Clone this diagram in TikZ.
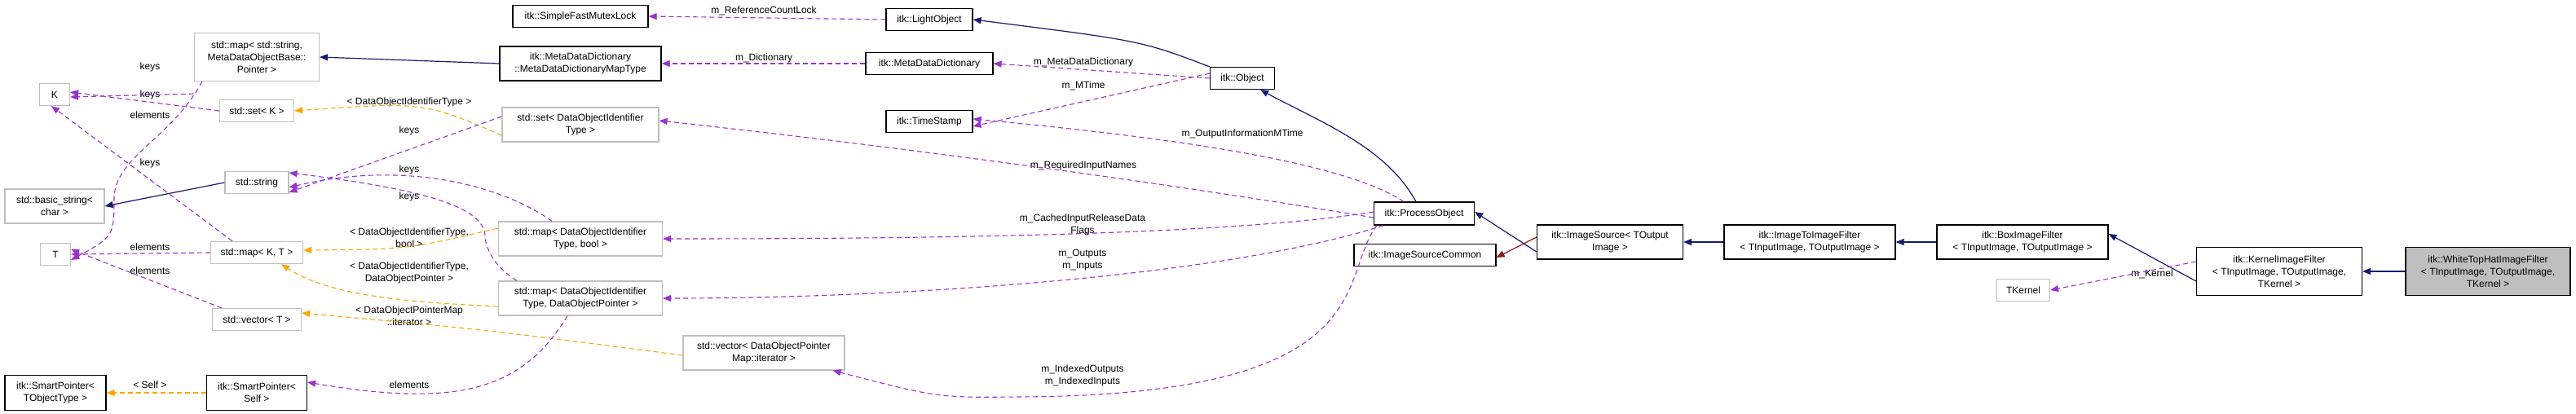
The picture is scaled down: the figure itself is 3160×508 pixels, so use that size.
\documentclass[tikz,border=0pt]{standalone}
\usepackage{fontspec}
\setmainfont{Liberation Sans}
\usetikzlibrary{arrows.meta}
\definecolor{navy}{HTML}{191970}
\definecolor{purp}{HTML}{9A32CD}
\definecolor{orng}{HTML}{FFA500}
\definecolor{dred}{HTML}{8B1A1A}
\definecolor{gbord}{HTML}{BFBFBF}
\begin{document}
\begin{tikzpicture}[x=1pt,y=-1pt,
  font=\fontsize{12}{15}\selectfont,
  box/.style={draw=black,line width=1.2pt,fill=white,inner sep=0pt,align=center},
  gbox/.style={draw=gbord,line width=1.2pt,fill=white,inner sep=0pt,align=center},
  lbl/.style={inner sep=0pt,align=center},
  tip/.style={-{Triangle[length=10pt,width=8pt]}},
  inh/.style={tip,draw=navy,line width=1.2pt},
  inhr/.style={tip,draw=dred,line width=1.2pt},
  use/.style={tip,draw=purp,line width=1.1pt,dash pattern=on 6pt off 4pt},
  tmpl/.style={tip,draw=orng,line width=1.1pt,dash pattern=on 6pt off 4pt}]
\useasboundingbox (0,0) rectangle (3160,508);
% nodes
\node[box,minimum width=166,minimum height=27] (sfml) at (712,20) {itk::SimpleFastMutexLock};
\node[gbox,minimum width=153,minimum height=59] (mapstr) at (315,70) {std::map< std::string,\\MetaDataObjectBase::\\Pointer >};
\node[box,minimum width=198,minimum height=42] (mddmt) at (712,78) {itk::MetaDataDictionary\\::MetaDataDictionaryMapType};
\node[gbox,minimum width=37,minimum height=27] (K) at (67,116) {K};
\node[gbox,minimum width=91,minimum height=27] (setK) at (315,136) {std::set< K >};
\node[gbox,minimum width=192,minimum height=42] (setdoit) at (712,153) {std::set< DataObjectIdentifier\\Type >};
\node[gbox,minimum width=78,minimum height=27] (str) at (315,224) {std::string};
\node[gbox,minimum width=122,minimum height=42] (bstr) at (67,253) {std::basic\_string<\\char >};
\node[gbox,minimum width=37,minimum height=27] (T) at (68,312) {T};
\node[gbox,minimum width=113,minimum height=27] (mapKT) at (315,310) {std::map< K, T >};
\node[gbox,minimum width=201,minimum height=42] (mapbool) at (712,293) {std::map< DataObjectIdentifier\\Type, bool >};
\node[gbox,minimum width=201,minimum height=42] (mapdop) at (712,366) {std::map< DataObjectIdentifier\\Type, DataObjectPointer >};
\node[gbox,minimum width=109,minimum height=27] (vecT) at (315,392) {std::vector< T >};
\node[box,minimum width=124,minimum height=43] (spto) at (68,482) {itk::SmartPointer<\\TObjectType >};
\node[box,minimum width=123,minimum height=43] (spself) at (315,482) {itk::SmartPointer<\\Self >};
\node[box,minimum width=106,minimum height=27] (lo) at (1140,24) {itk::LightObject};
\node[box,minimum width=156,minimum height=27] (mdd) at (1140,78) {itk::MetaDataDictionary};
\node[box,minimum width=79,minimum height=27] (obj) at (1524,96) {itk::Object};
\node[box,minimum width=106,minimum height=27] (ts) at (1140,149) {itk::TimeStamp};
\node[box,minimum width=123,minimum height=28] (po) at (1747,262) {itk::ProcessObject};
\node[box,minimum width=174,minimum height=27] (isc) at (1748,313) {itk::ImageSourceCommon};
\node[gbox,minimum width=198,minimum height=42] (vecit) at (937,433) {std::vector< DataObjectPointer\\Map::iterator >};
\node[box,minimum width=179,minimum height=42] (is) at (1975,297) {itk::ImageSource< TOutput\\Image >};
\node[box,minimum width=210,minimum height=42] (i2i) at (2220,297) {itk::ImageToImageFilter\\< TInputImage, TOutputImage >};
\node[box,minimum width=210,minimum height=42] (bif) at (2481,297) {itk::BoxImageFilter\\< TInputImage, TOutputImage >};
\node[box,minimum width=203,minimum height=59] (kif) at (2796,333) {itk::KernelImageFilter\\< TInputImage, TOutputImage,\\TKernel >};
\node[box,fill=gbord,minimum width=202,minimum height=59] (wth) at (3052,333) {itk::WhiteTopHatImageFilter\\< TInputImage, TOutputImage,\\TKernel >};
\node[gbox,minimum width=65,minimum height=27] (tk) at (2482,356) {TKernel};
% labels
\node[lbl] (l1) at (937,13) {m\_ReferenceCountLock};
\node[lbl] (l2) at (937,71) {m\_Dictionary};
\node[lbl] (l3) at (1329,76) {m\_MetaDataDictionary};
\node[lbl] (l4) at (1329,105) {m\_MTime};
\node[lbl] (l5) at (1524,164) {m\_OutputInformationMTime};
\node[lbl] (l6) at (1329,203) {m\_RequiredInputNames};
\node[lbl] (l7) at (1328,276) {m\_CachedInputReleaseData\\Flags};
\node[lbl] (l8) at (1328,319) {m\_Outputs\\m\_Inputs};
\node[lbl] (l9) at (1328,461) {m\_IndexedOutputs\\m\_IndexedInputs};
\node[lbl] (l10) at (2640,336) {m\_Kernel};
\node[lbl] (k1) at (184,82) {keys};
\node[lbl] (k2) at (184,141) {elements};
\node[lbl] (k3) at (184,116) {keys};
\node[lbl] (k4) at (502,125) {< DataObjectIdentifierType >};
\node[lbl] (k5) at (502,160) {keys};
\node[lbl] (k6) at (184,200) {keys};
\node[lbl] (k7) at (502,208) {keys};
\node[lbl] (k8) at (502,241) {keys};
\node[lbl] (k9) at (184,303) {elements};
\node[lbl] (k10) at (184,332) {elements};
\node[lbl] (k11) at (502,292) {< DataObjectIdentifierType,\\bool >};
\node[lbl] (k12) at (502,335) {< DataObjectIdentifierType,\\DataObjectPointer >};
\node[lbl] (k13) at (502,388) {< DataObjectPointerMap\\::iterator >};
\node[lbl] (k14) at (184,472) {< Self >};
\node[lbl] (k15) at (502,472) {elements};
% edges right part
\draw[use] (lo.west) -- (sfml.east);
\draw[inh] (mddmt.west) -- (mapstr.east);
\draw[use] (mdd.west) -- (mddmt.east);
\draw[use] (obj.west) -- (mdd.east);
\draw[inh] (obj.north west) .. controls (1400,50) .. (lo.east);
\draw[use] ([yshift=6pt]obj.west) -- ([yshift=-6pt]ts.east);
\draw[use] ([xshift=-25pt]po.north) .. controls (1650,200) and (1450,170) .. ([yshift=3pt]ts.east);
\draw[inh] ([xshift=-10pt]po.north) .. controls (1700,180) and (1620,150) .. ([xshift=22pt]obj.south);
\draw[use] ([yshift=-5pt]po.west) .. controls (1400,220) and (1100,180) .. ([yshift=5pt]setdoit.east);
\draw[use] ([yshift=2pt]po.west) .. controls (1500,290) and (1100,293) .. (mapbool.east);
\draw[use] ([xshift=-50pt]po.south) .. controls (1500,340) and (1100,366) .. (mapdop.east);
\draw[use] ([xshift=-58pt]po.south) .. controls (1640,340) and (1700,485) .. (1250,487) .. controls (1150,488) .. ([xshift=-15pt]vecit.south east);
\draw[inh] ([yshift=-12pt]is.west) -- ([yshift=2pt]po.east);
\draw[inhr] ([yshift=6pt]is.west) -- ([yshift=-3pt]isc.east);
\draw[inh] (i2i.west) -- (is.east);
\draw[inh] (bif.west) -- (i2i.east);
\draw[inh] ([yshift=-12pt]kif.west) -- ([yshift=10pt]bif.east);
\draw[inh] (wth.west) -- (kif.east);
\draw[use] ([yshift=12pt]kif.west) -- (tk.east);
% edges left part
\draw[use] ([yshift=-15pt]mapstr.south west) -- ([yshift=-3pt]K.east);
\draw[use] ([xshift=10pt]mapstr.south west) .. controls (210,170) and (145,190) .. (140,240) .. controls (140,290) .. ([yshift=-7pt]T.east);
\draw[use] (setK.west) -- ([yshift=3pt]K.east);
\draw[tmpl] ([yshift=-13pt]setdoit.west) .. controls (520,125) .. (setK.east);
\draw[use] ([yshift=10pt]setdoit.west) -- ([yshift=-12pt]str.east);
\draw[inh] (str.west) -- (bstr.east);
\draw[use] ([xshift=-30pt]mapKT.north) -- ([xshift=-4pt]K.south);
\draw[use] ([xshift=-35pt]mapbool.north) .. controls (620,230) and (500,195) .. ([yshift=-6pt]str.east);
\draw[use] ([xshift=-78pt]mapdop.north) .. controls (595,320) and (595,290) .. (595,290) .. controls (595,250) and (500,230) .. ([yshift=12pt]str.east);
\draw[use] (mapKT.west) -- (T.east);
\draw[use] ([xshift=-43pt]vecT.north) -- ([yshift=6pt]T.east);
\draw[tmpl] ([yshift=13pt]mapbool.west) .. controls (500,306) .. ([yshift=3pt]mapKT.east);
\draw[tmpl] ([yshift=-10pt]mapdop.west) .. controls (480,370) and (400,360) .. ([xshift=30pt]mapKT.south);
\draw[tmpl] ([yshift=-3pt]vecit.west) .. controls (600,405) .. ([yshift=8pt]vecT.east);
\draw[tmpl] (spself.west) -- (spto.east);
\draw[use] ([xshift=-16pt]mapdop.south) .. controls (640,480) and (560,500) .. ([yshift=13pt]spself.east);
\end{tikzpicture}
\end{document}
